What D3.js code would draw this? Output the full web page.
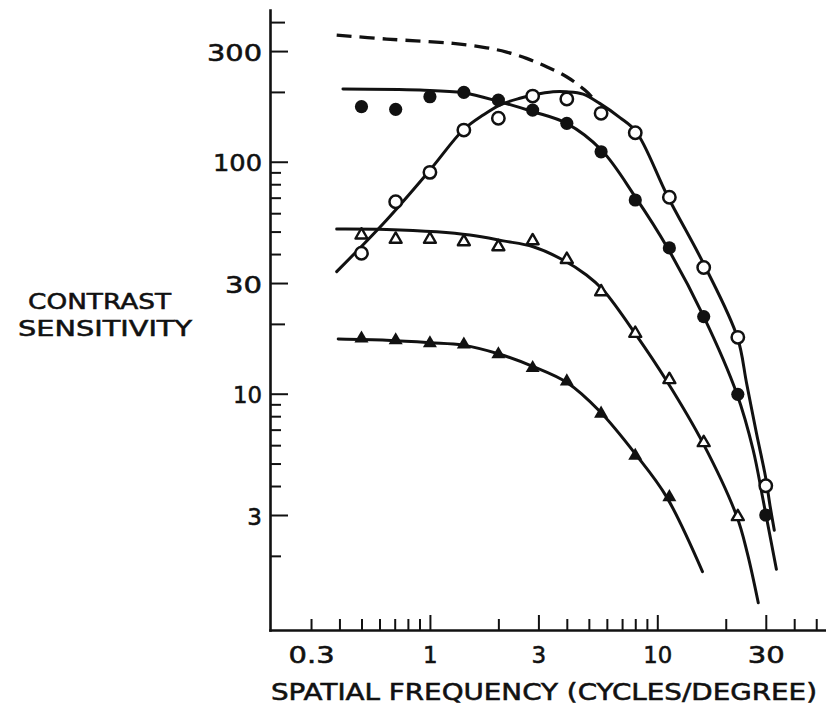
<!DOCTYPE html>
<html><head><meta charset="utf-8">
<script src="https://cdn.jsdelivr.net/npm/d3@7"></script>
<style>
html,body{margin:0;padding:0;background:#fff;}
svg{display:block;}
</style></head><body>
<svg id="chart" width="826" height="719"></svg>
<script>
// ---- data ----
const freqs = [0.5, 0.707, 1, 1.41, 2, 2.83, 4, 5.66, 8, 11.3, 16, 22.6, 30];
const filledCircleValues = [172.7, 168.2, 190.6, 199.1, 184.5, 167.0, 146.4, 110.4, 68.4, 42.5, 21.5, 9.94, 3.0];
const openCircleValues   = [40.3, 67.2, 90.0, 136.9, 153.9, 191.9, 186.4, 161.7, 133.4, 70.3, 35.0, 17.5, 4.01];
const openTriangleValues = [48.3, 46.3, 46.3, 45.2, 43.0, 45.6, 37.9, 27.5, 18.2, 11.5, 6.15, 2.95];
const filledTriangleValues = [17.3, 17.0, 16.5, 16.3, 14.8, 12.9, 11.3, 8.2, 5.4, 3.58];

const dashedCurve = [[0.389,351.6],[0.645,338],[1.266,323.7],[1.775,310],[2.174,297],[2.661,279],[3.258,256.8],[3.99,232.5],[4.80,203.7],[5.22,187.7]];
const filledCircleCurve = [[0.4145,205.8],[0.904,203.7],[1.401,198.4],[2.03,181.4],[2.846,164.3],[3.99,146.4],[5.68,112.3],[8.0,70.6],[11.1,42.5],[16.0,21.5],[22.4,9.97],[26.4,5.72],[29.2,3.48],[33.4,1.75]];
const openCircleCurve = [[0.389,33.6],[0.645,56.1],[1.0,92],[1.40,137],[1.715,159],[2.03,175.6],[2.487,187.7],[2.846,193.9],[3.48,200.3],[3.99,200.3],[4.72,195.8],[5.58,178.5],[6.85,155],[8.08,134.5],[11.1,71],[16.3,35.0],[22.5,17.5],[24.7,11.1],[27.3,6.75],[29.9,4.4],[31.3,3.3],[32.7,2.58]];
const openTriangleCurve = [[0.389,51.3],[0.645,51.1],[1.07,49.9],[1.499,48.3],[2.101,45.6],[2.846,43.0],[3.85,37.7],[4.88,32.5],[5.78,28.0],[8.08,17.9],[10.97,11.4],[15.9,6.11],[22.4,2.95],[24.9,2.05],[27.8,1.256]];
const filledTriangleCurve = [[0.395,17.2],[0.645,17.0],[1.0,16.6],[1.40,16.2],[2.03,14.8],[2.846,13.1],[3.99,11.2],[5.58,8.4],[8.08,5.44],[10.97,3.6],[15.8,1.71]];

const xTickValues = [0.3,0.4,0.5,0.6,0.7,0.8,0.9,1,2,3,4,5,6,7,8,9,10,20,30,40,50];
const xTickLabels = [0.3, 1, 3, 10, 30];
const xMajor = [1, 3, 10, 30];
const yTickValues = [2,3,4,5,6,7,8,9,10,20,30,40,50,60,70,80,90,100,200,300,400];
const yTickLabels = [3, 10, 30, 100, 300];
const yMedium = [20, 200, 400];

const xTitle = "SPATIAL FREQUENCY (CYCLES/DEGREE)";
const yTitleLines = ["CONTRAST", "SENSITIVITY"];

// ---- drawing ----
const INK = "#111";
const FONT = '"DejaVu Sans", sans-serif';
const x = d3.scaleLog().domain([0.198, 55.2]).range([270, 826]);
const y = d3.scaleLog().domain([0.958, 451]).range([630, 10]);
const svg = d3.select("#chart");
svg.append("rect").attr("width", 826).attr("height", 719).attr("fill", "#fff");

const fmt = d => (d < 1 ? d.toFixed(1) : String(d));
const labelLen = {"300": 55, "100": 49, "30": 37, "10": 29, "0.3": 46};
const styleText = sel => sel.style("font-family", FONT).attr("fill", INK)
  .attr("stroke", INK).attr("stroke-width", 0.55);

// x axis
const gx = svg.append("g").attr("transform", "translate(0,630)")
  .call(d3.axisBottom(x).tickValues(xTickValues).tickSizeInner(-11).tickSizeOuter(0).tickPadding(17)
    .tickFormat(d => xTickLabels.includes(d) ? fmt(d) : ""));
gx.select(".domain").attr("stroke", INK).attr("stroke-width", 2.6).attr("stroke-linecap", "square");
gx.selectAll(".tick line").attr("stroke", INK).attr("stroke-width", 2)
  .attr("y2", d => xMajor.includes(d) ? -15 : -11);
gx.selectAll(".tick text").call(styleText).style("font-size", "23px")
  .each(function() {
    const t = d3.select(this).text();
    if (labelLen[t]) d3.select(this).attr("textLength", labelLen[t]).attr("lengthAdjust", "spacingAndGlyphs");
  });

// y axis
const gy = svg.append("g").attr("transform", "translate(270,0)")
  .call(d3.axisLeft(y).tickValues(yTickValues).tickSizeInner(-11).tickSizeOuter(0).tickPadding(8)
    .tickFormat(d => yTickLabels.includes(d) ? fmt(d) : ""));
gy.select(".domain").attr("stroke", INK).attr("stroke-width", 2.6).attr("stroke-linecap", "square");
gy.selectAll(".tick line").attr("stroke", INK).attr("stroke-width", 2)
  .attr("x2", d => yTickLabels.includes(d) ? 18 : (yMedium.includes(d) ? 15 : 11));
gy.selectAll(".tick text").call(styleText).style("font-size", "23px").attr("dy", "0.4em")
  .each(function() {
    const t = d3.select(this).text();
    if (labelLen[t]) d3.select(this).attr("textLength", labelLen[t]).attr("lengthAdjust", "spacingAndGlyphs");
  });

// titles
svg.append("text").attr("x", 271).attr("y", 700).text(xTitle)
  .call(styleText).style("font-size", "23px")
  .attr("textLength", 546).attr("lengthAdjust", "spacingAndGlyphs");
const yTitlePos = [[28, 309, 143], [18, 336, 174]];
yTitleLines.forEach((s, i) => {
  svg.append("text").attr("x", yTitlePos[i][0]).attr("y", yTitlePos[i][1]).text(s)
    .call(styleText).style("font-size", "22px")
    .attr("textLength", yTitlePos[i][2]).attr("lengthAdjust", "spacingAndGlyphs");
});

// curves
const line = d3.line().x(d => x(d[0])).y(d => y(d[1])).curve(d3.curveCatmullRom.alpha(0.5));
const curves = svg.append("g").attr("fill", "none").attr("stroke", INK).attr("stroke-width", 3).attr("stroke-linecap", "round");
curves.append("path").attr("d", line(dashedCurve)).attr("stroke-dasharray", "15,8").attr("stroke-width", 3.3).attr("stroke-linecap", "butt");
curves.append("path").attr("d", line(filledCircleCurve));
curves.append("path").attr("d", line(openCircleCurve));
curves.append("path").attr("d", line(openTriangleCurve));
curves.append("path").attr("d", line(filledTriangleCurve));

// markers
const pts = vals => vals.map((v, i) => [freqs[i], v]);
const marks = svg.append("g");
marks.selectAll("circle.fc").data(pts(filledCircleValues)).join("circle").attr("class", "fc")
  .attr("cx", d => x(d[0])).attr("cy", d => y(d[1])).attr("r", 6.6).attr("fill", INK);
marks.selectAll("circle.oc").data(pts(openCircleValues)).join("circle").attr("class", "oc")
  .attr("cx", d => x(d[0])).attr("cy", d => y(d[1])).attr("r", 6.2).attr("fill", "#fff")
  .attr("stroke", INK).attr("stroke-width", 2.5);
const triOpen = d3.symbol(d3.symbolTriangle, 62)();
const triFilled = d3.symbol(d3.symbolTriangle, 85)();
marks.selectAll("path.ot").data(pts(openTriangleValues)).join("path").attr("class", "ot")
  .attr("d", triOpen).attr("transform", d => `translate(${x(d[0])},${y(d[1])})`)
  .attr("fill", "#fff").attr("stroke", INK).attr("stroke-width", 2.4).attr("stroke-linejoin", "round");
marks.selectAll("path.ft").data(pts(filledTriangleValues)).join("path").attr("class", "ft")
  .attr("d", triFilled).attr("transform", d => `translate(${x(d[0])},${y(d[1])})`)
  .attr("fill", INK);
</script>
</body></html>
